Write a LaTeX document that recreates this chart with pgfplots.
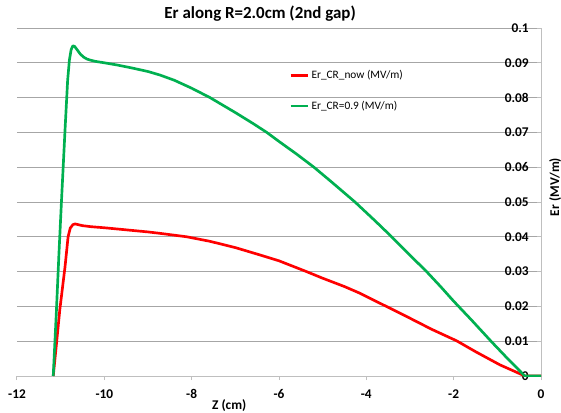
\documentclass[border=0pt]{standalone}
\usepackage{pgfplots}
\pgfplotsset{compat=1.18}
\usepackage{fontspec}
\setmainfont{Carlito}
\definecolor{exred}{HTML}{FF0000}
\definecolor{exgreen}{HTML}{00B050}
\definecolor{gridgray}{HTML}{A6A6A6}
\definecolor{axgray}{HTML}{BFBFBF}
\begin{document}
\begin{tikzpicture}
\begin{axis}[
  scale only axis, width=393pt, height=261pt,
  at={(0,0)}, anchor=south west,
  xmin=-12, xmax=0, ymin=0, ymax=0.1,
  axis x line*=bottom, axis y line*=right,
  xtick pos=left, ytick pos=right, yticklabel pos=right,
  axis line style={axgray, line width=0.75pt},
  xtick={-12,-10,-8,-6,-4,-2,0},
  xticklabels={-12,-10,-8,-6,-4,-2,0},
  ytick={0,0.01,0.02,0.03,0.04,0.05,0.06,0.07,0.08,0.09,0.1},
  yticklabels={0,0.01,0.02,0.03,0.04,0.05,0.06,0.07,0.08,0.09,0.1},
  ymajorgrids, grid style={gridgray, line width=0.75pt},
  xtick align=outside, ytick align=inside,
  major tick length=3pt,
  tick style={axgray, line width=0.75pt},
  tick label style={font=\bfseries\fontsize{10}{12}\selectfont},
  xticklabel style={anchor=base, yshift=-14pt},
  yticklabel style={anchor=east, inner sep=0pt, xshift=-9pt},
  title={Er along R=2.0cm (2nd gap)},
  title style={at={(axis description cs:0.464,1)}, anchor=center, yshift=4.5pt, font=\bfseries\fontsize{12.7}{15}\selectfont},
  xlabel={Z (cm)},
  xlabel style={at={(axis description cs:0.405,0)}, anchor=center, yshift=-22pt, font=\bfseries\fontsize{10}{12}\selectfont},
  ylabel={Er (MV/m)},
  ylabel style={at={(axis description cs:1,0.543)}, anchor=center, yshift=-10.7pt, font=\bfseries\fontsize{10}{12}\selectfont},
  legend style={draw=none, fill=none, at={(axis description cs:0.519,0.886)}, anchor=north west,
    font=\fontsize{8.5}{10}\selectfont, row sep=11pt, inner sep=0pt},
  legend cell align=left,
  legend image code/.code={\draw[#1] (0pt,0pt) -- (12.75pt,0pt);},
]
\addplot[exred, line width=2pt, line join=round] coordinates {
(-11.17,0) (-11.11,0.0075) (-11.02,0.019) (-10.90,0.0314) (-10.83,0.0400)
(-10.78,0.0425) (-10.72,0.0435) (-10.67,0.0437) (-10.60,0.0435) (-10.50,0.0432)
(-10.30,0.0429) (-10.0,0.0426) (-9.5,0.0420) (-9.0,0.0414) (-8.73,0.0410)
(-8.11,0.0400) (-7.58,0.0387) (-7.0,0.0369) (-6.44,0.0348) (-6.0,0.0331)
(-5.37,0.0300) (-5.0,0.0281) (-4.5,0.0257) (-4.15,0.0238) (-3.8,0.0216)
(-3.38,0.0190) (-3.0,0.0166) (-2.5,0.0134) (-1.93,0.0101) (-1.5,0.0070)
(-0.94,0.0032) (-0.6,0.0013) (-0.37,0) (0,0)
};
\addlegendentry{Er\_CR\_now (MV/m)}
\addplot[exgreen, line width=2pt, line join=round] coordinates {
(-11.17,0) (-11.10,0.018) (-11.04,0.035) (-10.98,0.0506) (-10.90,0.0707)
(-10.84,0.085) (-10.80,0.0908) (-10.76,0.0938) (-10.72,0.0949) (-10.68,0.0947)
(-10.62,0.0937) (-10.55,0.0925) (-10.47,0.0916) (-10.40,0.0911) (-10.33,0.0908)
(-10.2,0.0904) (-10.0,0.0900) (-9.72,0.0894) (-9.4,0.0886) (-9.0,0.0875)
(-8.73,0.0865) (-8.4,0.0850) (-8.0,0.0827) (-7.58,0.0800) (-7.0,0.0757)
(-6.6,0.0726) (-6.28,0.0700) (-6.0,0.0674) (-5.6,0.0638) (-5.20,0.0600)
(-4.8,0.0558) (-4.26,0.0500) (-3.8,0.0446) (-3.42,0.0400) (-3.0,0.0347)
(-2.62,0.0300) (-2.3,0.0257) (-2.0,0.0215) (-1.6,0.0162) (-1.13,0.0098)
(-0.75,0.0048) (-0.37,0) (0,0)
};
\addlegendentry{Er\_CR=0.9 (MV/m)}
\end{axis}
\pgfresetboundingbox
\path[use as bounding box] (-12.75pt,-27pt) rectangle (408pt,282pt);
\end{tikzpicture}
\end{document}
